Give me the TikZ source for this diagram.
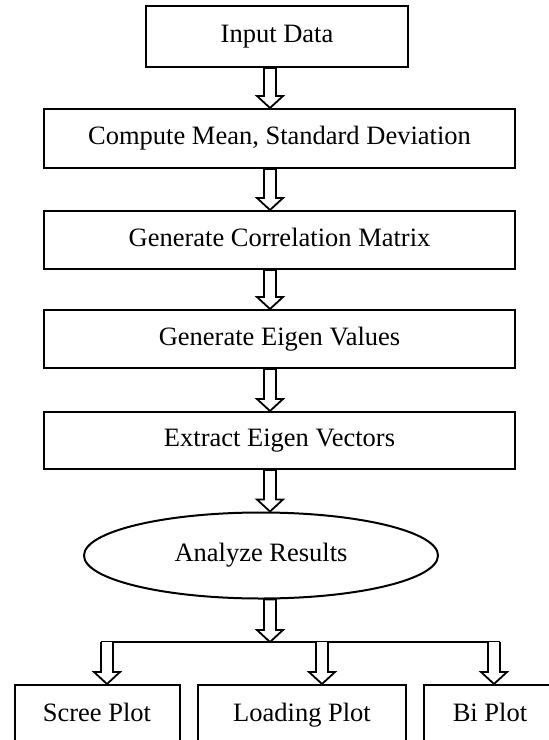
\documentclass[tikz,border=0pt]{standalone}
\usepackage{fontspec}
\setmainfont{Liberation Serif}
\usetikzlibrary{shapes.geometric,calc}
\tikzset{
  stepbox/.style={draw, line width=2pt, inner sep=0pt, text height=17pt, text depth=5pt,
    font=\fontsize{26.5}{30}\selectfont},
  ovalbox/.style={draw, ellipse, line width=2pt, inner sep=0pt,
    font=\fontsize{26.5}{30}\selectfont},
  arr/.style={draw, line width=1.8pt, line join=miter, fill=white},
  hub/.style={draw, line width=2pt},
}
\newcommand\blockarr[2]{%
  \path[arr] let \p1=(ax |- #1.south), \p2=(ax |- #2.north) in
    (\x1-6pt,\y1) -- (\x1-6pt,\y2+12pt) -- (\x1-13pt,\y2+12pt) -- (\x2,\y2)
    -- (\x1+13pt,\y2+12pt) -- (\x1+6pt,\y2+12pt) -- (\x1+6pt,\y1) -- cycle;}
\newcommand\droparr[2]{%
  \path[arr] let \p1=(#2.north |- #1), \p2=(#2.north) in
    (\x1-6pt,\y1) -- (\x1-6pt,\y2+12pt) -- (\x1-13pt,\y2+12pt) -- (\x2,\y2)
    -- (\x1+13pt,\y2+12pt) -- (\x1+6pt,\y2+12pt) -- (\x1+6pt,\y1);}
\begin{document}
\begin{tikzpicture}[x=1pt,y=-1pt]
\useasboundingbox (0,0) rectangle (549,740);
\coordinate (ax) at (270,0);
\node[stepbox, minimum width=262pt, minimum height=61pt] (n1) at (277,36.5) {Input Data};
\node[stepbox, minimum width=471pt, minimum height=59pt] (n2) at (279.5,138.5) {Compute Mean, Standard Deviation};
\node[stepbox, minimum width=471pt, minimum height=58pt] (n3) at (279.5,240) {Generate Correlation Matrix};
\node[stepbox, minimum width=471pt, minimum height=58pt] (n4) at (279.5,339) {Generate Eigen Values};
\node[stepbox, minimum width=471pt, minimum height=57pt] (n5) at (279.5,440.5) {Extract Eigen Vectors};
\node[ovalbox, minimum width=354pt, minimum height=86pt] (n6) at (261,555.5) {Analyze Results};
\node[stepbox, minimum width=165pt, minimum height=60pt, anchor=north] (b1) at (97,684) {Scree Plot};
\node[stepbox, minimum width=208pt, minimum height=60pt, anchor=north] (b2) at (302,684) {Loading Plot};
\node[stepbox, minimum width=132pt, minimum height=60pt, anchor=north] (b3) at (490,684) {Bi Plot};
\coordinate (hm) at (269,642);
\coordinate (hl) at (101,642);
\coordinate (hr) at (500,642);
\blockarr{n1}{n2}
\blockarr{n2}{n3}
\blockarr{n3}{n4}
\blockarr{n4}{n5}
\blockarr{n5}{n6}
\blockarr{n6}{hm}
\draw[hub] (hl) -- (hr);
\coordinate (t1) at (107,684);
\coordinate (t2) at (322,684);
\coordinate (t3) at (494,684);
\droparr{hm}{t1}
\droparr{hm}{t2}
\droparr{hm}{t3}
\end{tikzpicture}
\end{document}
